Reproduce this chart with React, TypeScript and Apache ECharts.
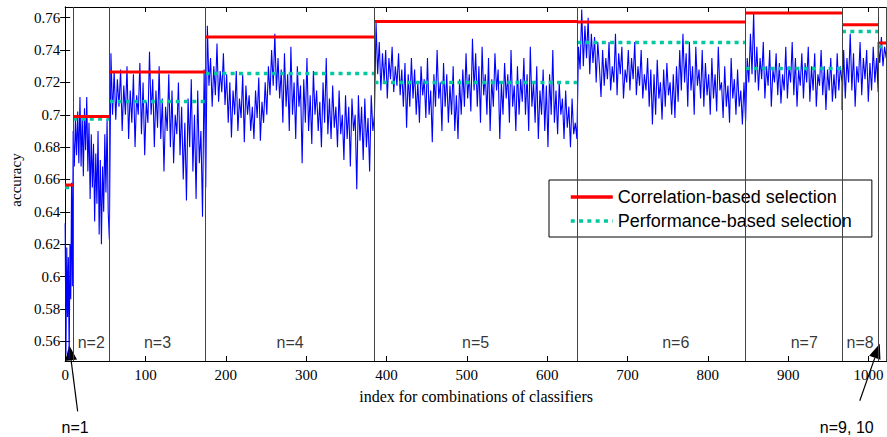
import React, { useEffect, useRef } from "react";
import * as echarts from "echarts";

// group boundaries on the index axis (n = 1 .. 9)
const groupBounds = [0, 10, 55, 175, 385, 637, 847, 967, 1012, 1022];
const corrValues = [0.6566, 0.6989, 0.7265, 0.748, 0.7577, 0.7573, 0.7629, 0.7557, 0.7443];
const perfValues = [0.655, 0.6973, 0.7082, 0.7255, 0.72, 0.7447, 0.7286, 0.7515, 0.742];

// accuracy of each combination, one array per group
const acc1 = [0.633, 0.552, 0.618, 0.575, 0.612, 0.549, 0.62, 0.586, 0.658, 0.594, 0.69];
const acc2 = [0.69, 0.668, 0.697, 0.675, 0.702, 0.67, 0.711, 0.668, 0.699, 0.662, 0.704, 0.678, 0.711, 0.665, 0.695, 0.648, 0.688, 0.655, 0.682, 0.634, 0.676, 0.645, 0.69, 0.626, 0.672, 0.62, 0.668, 0.64, 0.688, 0.652, 0.697, 0.64, 0.623];
const acc3 = [0.623, 0.738, 0.70, 0.727, 0.697, 0.722, 0.705, 0.728, 0.69, 0.718, 0.70, 0.73, 0.685, 0.715, 0.695, 0.725, 0.68, 0.712, 0.70, 0.732, 0.688, 0.72, 0.675, 0.708, 0.695, 0.739, 0.70, 0.722, 0.68, 0.715, 0.692, 0.73, 0.685, 0.71, 0.665, 0.705, 0.69, 0.725, 0.68, 0.715, 0.67, 0.70, 0.688, 0.72, 0.675, 0.705, 0.66, 0.695, 0.647, 0.71, 0.68, 0.722, 0.665, 0.70, 0.648, 0.715, 0.67, 0.69, 0.637, 0.728, 0.655];
const acc4 = [0.655, 0.755, 0.718, 0.735, 0.705, 0.73, 0.712, 0.744, 0.708, 0.727, 0.714, 0.738, 0.706,
  0.725, 0.695, 0.72, 0.686, 0.715, 0.70, 0.727, 0.69, 0.71, 0.698, 0.725, 0.683, 0.718, 0.70, 0.712, 0.69, 0.705, 0.685, 0.715, 0.698, 0.723, 0.684, 0.708, 0.695, 0.72, 0.70, 0.73, 0.712, 0.74, 0.718,
  0.75, 0.715, 0.735, 0.71, 0.728, 0.695, 0.738, 0.705, 0.725, 0.69, 0.742, 0.70, 0.72, 0.685, 0.73, 0.705, 0.718, 0.67, 0.722, 0.695, 0.735, 0.69, 0.712, 0.682, 0.727, 0.70, 0.715, 0.69, 0.708, 0.68, 0.72, 0.695, 0.735, 0.688, 0.71,
  0.685, 0.718, 0.692, 0.705, 0.68, 0.715, 0.688, 0.70, 0.672, 0.712, 0.685, 0.705, 0.668, 0.71, 0.69, 0.70, 0.654, 0.712, 0.684, 0.705, 0.672, 0.71, 0.68, 0.698, 0.665, 0.712, 0.69, 0.70];
const acc5 = [0.70, 0.757, 0.725, 0.745, 0.715, 0.738, 0.72, 0.74, 0.71, 0.735, 0.722, 0.742, 0.714, 0.73, 0.718, 0.738, 0.712, 0.728, 0.705,
  0.732, 0.692, 0.725, 0.705, 0.735, 0.71, 0.728, 0.70, 0.72, 0.695, 0.73, 0.712, 0.722, 0.698, 0.735, 0.70, 0.715, 0.683, 0.725, 0.705, 0.74, 0.71, 0.72, 0.69, 0.732, 0.705, 0.725, 0.695, 0.718, 0.70, 0.73, 0.69, 0.712, 0.685, 0.722, 0.70, 0.728, 0.705, 0.738, 0.71, 0.725,
  0.702, 0.747, 0.715, 0.738, 0.705, 0.73, 0.695, 0.742, 0.712, 0.725, 0.70, 0.735, 0.69, 0.722, 0.705, 0.738, 0.715, 0.728, 0.685, 0.72, 0.70, 0.732, 0.71, 0.725, 0.695, 0.74, 0.705, 0.718, 0.69, 0.73, 0.70, 0.722, 0.708,
  0.735, 0.70, 0.725, 0.69, 0.742, 0.705, 0.72, 0.695, 0.73, 0.685, 0.715, 0.70, 0.728, 0.69, 0.718, 0.68, 0.725, 0.70, 0.74, 0.695, 0.715, 0.688, 0.72, 0.70, 0.71, 0.685, 0.715, 0.692, 0.705, 0.68, 0.71, 0.688, 0.695, 0.685];
const acc6 = [0.685, 0.742, 0.728, 0.765, 0.73, 0.755, 0.735, 0.76, 0.725, 0.75, 0.732, 0.748, 0.72, 0.745, 0.73, 0.711,
  0.74, 0.718, 0.735, 0.722, 0.745, 0.715, 0.73, 0.72, 0.75, 0.712, 0.738, 0.725, 0.742, 0.71, 0.728, 0.72, 0.74, 0.715, 0.735, 0.722, 0.745, 0.712, 0.73, 0.718, 0.74, 0.71, 0.725, 0.715, 0.735, 0.705, 0.728,
  0.694, 0.725, 0.70, 0.734, 0.71, 0.72, 0.697, 0.728, 0.705, 0.732, 0.712, 0.72, 0.70, 0.725, 0.698, 0.73, 0.708, 0.74,
  0.715, 0.75, 0.72, 0.738, 0.705, 0.745, 0.715, 0.73, 0.70, 0.742, 0.718, 0.728, 0.71, 0.74, 0.705, 0.732, 0.712, 0.725, 0.70,
  0.735, 0.71, 0.725, 0.702, 0.742, 0.715, 0.72, 0.698, 0.73, 0.705, 0.718, 0.695, 0.735, 0.71, 0.722, 0.70, 0.728, 0.705, 0.715, 0.694, 0.72, 0.696];
const acc7 = [0.696, 0.735, 0.72, 0.75, 0.725, 0.763, 0.72, 0.742, 0.715, 0.735, 0.722, 0.745, 0.71, 0.73, 0.718, 0.74, 0.705, 0.728, 0.72, 0.738, 0.712, 0.732, 0.707, 0.725, 0.715, 0.742, 0.71, 0.73, 0.72, 0.745, 0.712, 0.735, 0.705, 0.728, 0.718, 0.738, 0.71, 0.732, 0.72, 0.742, 0.708, 0.73, 0.715, 0.738, 0.705, 0.725, 0.718, 0.74, 0.712, 0.73, 0.703, 0.728, 0.715, 0.735, 0.708, 0.725, 0.71, 0.738, 0.715, 0.73, 0.72];
const acc8 = [0.703, 0.74, 0.71, 0.735, 0.72, 0.75, 0.715, 0.738, 0.705, 0.73, 0.72, 0.745, 0.712, 0.735, 0.722, 0.74, 0.708, 0.732, 0.715, 0.742, 0.72, 0.735, 0.714];
const acc9 = [0.745, 0.732, 0.748, 0.73, 0.742, 0.735];
const accGroups = [acc1, acc2, acc3, acc4, acc5, acc6, acc7, acc8, acc9];

const groupLabels = ["n=2", "n=3", "n=4", "n=5", "n=6", "n=7", "n=8"];
const groupLabelX = [32.5, 115, 280, 511, 760, 920, 989.5];
const separators = [10, 55, 175, 385, 637, 847, 967, 1012, 1022];
const xTicks = [0, 100, 200, 300, 400, 500, 600, 700, 800, 900, 1000];
const yTicks = [0.56, 0.58, 0.6, 0.62, 0.64, 0.66, 0.68, 0.7, 0.72, 0.74, 0.76];

const X_MIN = 0, X_MAX = 1023, Y_MIN = 0.5478, Y_MAX = 0.7666;

function buildAccuracy() {
  const out: any[] = [];
  accGroups.forEach((arr, g) => {
    const a = groupBounds[g], b = groupBounds[g + 1];
    const n = arr.length;
    arr.forEach((v, i) => out.push([a + (i * (b - a)) / (n - 1), v]));
  });
  return out;
}

function buildSteps(vals: number[]) {
  const out: any[] = [];
  vals.forEach((v, i) => {
    out.push([groupBounds[i], v]);
    out.push([groupBounds[i + 1], v]);
    out.push([groupBounds[i + 1], "-"]);
  });
  return out;
}

const SERIF = "'Liberation Serif', 'Times New Roman', serif";
const SANS = "'Liberation Sans', Arial, sans-serif";

export default function App() {
  const ref = useRef<HTMLDivElement>(null);
  useEffect(() => {
    const chart = echarts.init(ref.current!, null, { renderer: "svg" });
    const axisLine = { show: true, lineStyle: { color: "#000", width: 1 } };
    const option: any = {
      animation: false,
      backgroundColor: "#fff",
      grid: { left: 64, top: 7, right: -3, bottom: 76, show: false },
      xAxis: [
        {
          type: "value", min: X_MIN, max: X_MAX, position: "bottom",
          axisLine, splitLine: { show: false },
          axisTick: { inside: true, length: 5, customValues: xTicks, lineStyle: { color: "#000" } },
          axisLabel: { customValues: xTicks, margin: 6, color: "#000", fontFamily: SERIF, fontSize: 15, formatter: (v: number) => String(Math.round(v)) },
          name: "index for combinations of classifiers", nameLocation: "middle", nameGap: 27,
          nameTextStyle: { color: "#000", fontFamily: SERIF, fontSize: 16 },
        },
        {
          type: "value", min: X_MIN, max: X_MAX, position: "top",
          axisLine, splitLine: { show: false },
          axisTick: { inside: true, length: 5, customValues: xTicks, lineStyle: { color: "#000" } },
          axisLabel: { show: false },
        },
      ],
      yAxis: [
        {
          type: "value", min: Y_MIN, max: Y_MAX, position: "left",
          axisLine, splitLine: { show: false },
          axisTick: { inside: true, length: 5, customValues: yTicks, lineStyle: { color: "#000" } },
          axisLabel: {
            customValues: yTicks, margin: 5, color: "#000", fontFamily: SERIF, fontSize: 15,
            formatter: (v: number) => String(+(+v).toFixed(2)),
          },
          name: "accuracy", nameLocation: "middle", nameGap: 41, nameRotate: 90,
          nameTextStyle: { color: "#000", fontFamily: SERIF, fontSize: 15, padding: [0, 0, 0, 8] },
        },
        {
          type: "value", min: Y_MIN, max: Y_MAX, position: "right",
          axisLine, splitLine: { show: false },
          axisTick: { inside: true, length: 5, customValues: yTicks, lineStyle: { color: "#000" } },
          axisLabel: { show: false },
        },
      ],
      legend: {
        data: ["Correlation-based selection", "Performance-based selection"],
        orient: "vertical", left: 549, top: 180,
        padding: [8, 20, 7, 20], itemGap: 6, itemWidth: 42, itemHeight: 14,
        itemStyle: { opacity: 0 },
        lineStyle: { width: 3.5 },
        backgroundColor: "#fff", borderColor: "#000", borderWidth: 1, borderRadius: 0,
        textStyle: { color: "#000", fontFamily: SANS, fontSize: 18 },
        selectedMode: false,
      },
      series: [
        {
          name: "accuracy", type: "line", data: buildAccuracy(), symbol: "none",
          lineStyle: { color: "#0000ff", width: 1.1 }, z: 2,
          markLine: {
            silent: true, symbol: "none", label: { show: false },
            lineStyle: { color: "#444", width: 1, type: "solid" },
            data: separators.map((x) => ({ xAxis: x })),
          },
        },
        {
          name: "Performance-based selection", type: "line", data: buildSteps(perfValues), symbol: "none",
          connectNulls: false, itemStyle: { color: "#00c8a0" },
          lineStyle: { color: "#00c8a0", width: 3.5, type: [4, 4.3] }, z: 3,
        },
        {
          name: "Correlation-based selection", type: "line", data: buildSteps(corrValues), symbol: "none",
          connectNulls: false, itemStyle: { color: "#ff0000" },
          lineStyle: { color: "#ff0000", width: 3 }, z: 4,
        },
        {
          name: "groups", type: "scatter", symbolSize: 0, z: 5,
          data: groupLabelX.map((x, i) => [x, 0.5594, groupLabels[i]]),
          label: {
            show: true, position: "inside", color: "#000", fontFamily: SANS, fontSize: 16,
            formatter: (p: any) => p.value[2],
          },
        },
      ],
    };
    chart.setOption(option);

    const arrow = (tip: number[], tail: number[]) => {
      const dx = tail[0] - tip[0], dy = tail[1] - tip[1];
      const len = Math.hypot(dx, dy);
      const ux = dx / len, uy = dy / len;
      const bx = tip[0] + ux * 15, by = tip[1] + uy * 15;
      const px = -uy * 6, py = ux * 6;
      return [
        { type: "line", shape: { x1: bx, y1: by, x2: tail[0], y2: tail[1] }, style: { stroke: "#000", lineWidth: 1.2 } },
        { type: "polygon", shape: { points: [[tip[0], tip[1]], [bx + px, by + py], [bx - px, by - py]] }, style: { fill: "#000" } },
      ];
    };
    const tip1 = chart.convertToPixel({ gridIndex: 0 } as any, [5, 0.5575]) as number[];
    const tip2 = chart.convertToPixel({ gridIndex: 0 } as any, [1014, 0.5585]) as number[];
    chart.setOption({
      graphic: [
        ...arrow(tip1, [tip1[0] + 8.5, tip1[1] + 66]),
        ...arrow(tip2, [tip2[0] - 20, tip2[1] + 57]),
        { type: "text", x: tip1[0] + 6, y: 427, style: { text: "n=1", font: `16px ${SANS}`, fill: "#000", align: "center", verticalAlign: "middle" } },
        { type: "text", x: tip2[0] - 33, y: 427, style: { text: "n=9, 10", font: `16px ${SANS}`, fill: "#000", align: "center", verticalAlign: "middle" } },
      ],
    });
    return () => chart.dispose();
  }, []);
  return <div ref={ref} style={{ position: "absolute", left: 0, top: 0, width: 887, height: 437 }} />;
}
